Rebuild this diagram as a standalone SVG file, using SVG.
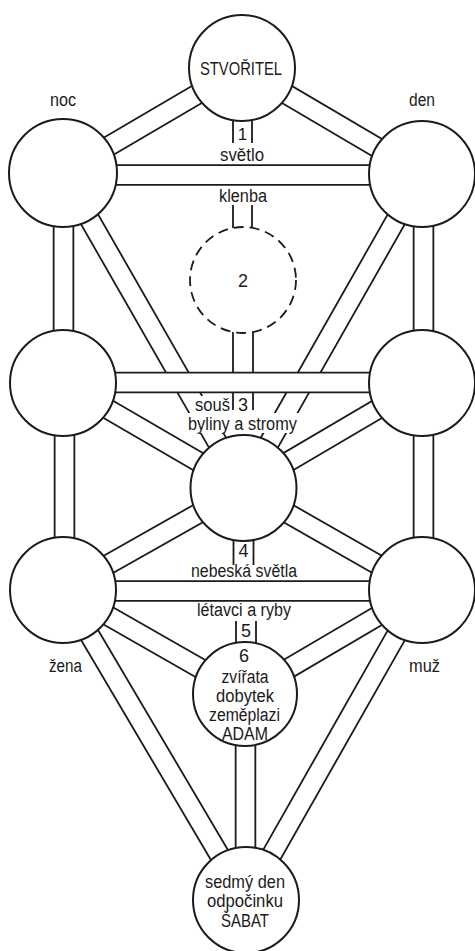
<svg xmlns="http://www.w3.org/2000/svg" width="475" height="951" viewBox="0 0 475 951">
<defs>
<style>
.o{stroke:#1b1b1b;stroke-width:21.5;fill:none}
.i{stroke:#fff;stroke-width:17.9;fill:none}
.ln{stroke:#1b1b1b;stroke-width:1.8;fill:none}
.nd{fill:#fff;stroke:#1b1b1b;stroke-width:2}
.ds{fill:#fff;stroke:#1b1b1b;stroke-width:1.8;stroke-dasharray:10 6}
.ko{fill:#fff}
text{font-family:"Liberation Sans",Arial,sans-serif;font-size:18px;fill:#1b1b1b;text-anchor:middle}
.dg{font-size:17px}
</style>
</defs>
<rect width="475" height="951" fill="#fff"/>
<g id="connectors">
  <path class="o" d="M242 68L63 173M242 68L422 174M63 173L243.5 488M422 174L243.5 488M63 383L243.5 488M422 383L243.5 488M243.5 488L63 590M243.5 488L422 590M63 590L245 694M422 590L245 694M63 590L246 900M422 590L246 900"/>
  <path class="i" d="M242 68L63 173M242 68L422 174M63 173L243.5 488M422 174L243.5 488M63 383L243.5 488M422 383L243.5 488M243.5 488L63 590M243.5 488L422 590M63 590L245 694M422 590L245 694M63 590L246 900M422 590L246 900"/>
  <path class="o" d="M63.5 173V383M64.5 383V590M423.5 174V383M423.5 383V590M245.5 694V900"/>
  <path class="i" d="M63.5 173V383M64.5 383V590M423.5 174V383M423.5 383V590M245.5 694V900"/>
  <path class="o" d="M63 175H422M63 382.5H422M63 591H422"/>
  <path class="i" d="M63 175H422M63 382.5H422M63 591H422"/>
  <path class="ln" d="M233 115V143M252 115V143M233 205V230M252 205V230M233 330V373M253 330V373M233 393V410M253 393V410M233.5 535V565M253.5 535V565M236 621V648M256 621V648"/>
  <rect class="ko" x="193" y="396" width="38" height="18"/>
  <rect class="ko" x="186" y="413" width="114" height="20"/>
</g>
<g id="stvoritel">
  <circle class="nd" cx="242" cy="68" r="53"/>
  <text x="241" y="75" textLength="82" lengthAdjust="spacingAndGlyphs">STVOŘITEL</text>
</g>
<g id="noc">
  <circle class="nd" cx="63" cy="173" r="54"/>
  <text x="63" y="106" textLength="26" lengthAdjust="spacingAndGlyphs">noc</text>
</g>
<g id="den">
  <circle class="nd" cx="422" cy="174" r="53"/>
  <text x="422" y="106" textLength="26" lengthAdjust="spacingAndGlyphs">den</text>
</g>
<g id="node2">
  <circle class="ds" cx="243" cy="280" r="53"/>
  <text x="243" y="287">2</text>
</g>
<g id="left-middle">
  <circle class="nd" cx="63" cy="383" r="53"/>
</g>
<g id="right-middle">
  <circle class="nd" cx="422" cy="383" r="53"/>
</g>
<g id="center">
  <circle class="nd" cx="243.5" cy="488" r="53"/>
</g>
<g id="zena">
  <circle class="nd" cx="63" cy="590" r="53"/>
  <text x="65.5" y="672" textLength="33" lengthAdjust="spacingAndGlyphs">žena</text>
</g>
<g id="muz">
  <circle class="nd" cx="422" cy="590" r="53"/>
  <text x="424.5" y="672" textLength="31" lengthAdjust="spacingAndGlyphs">muž</text>
</g>
<g id="node6">
  <circle class="nd" cx="245" cy="694" r="52"/>
  <text x="244" y="662">6</text>
  <text x="245" y="683" textLength="47" lengthAdjust="spacingAndGlyphs">zvířata</text>
  <text x="245" y="702" textLength="58" lengthAdjust="spacingAndGlyphs">dobytek</text>
  <text x="244.5" y="721" textLength="71" lengthAdjust="spacingAndGlyphs">zeměplazi</text>
  <text x="245" y="740" textLength="46" lengthAdjust="spacingAndGlyphs">ADAM</text>
</g>
<g id="sabat">
  <circle class="nd" cx="246" cy="900" r="53"/>
  <text x="245" y="888" textLength="80" lengthAdjust="spacingAndGlyphs">sedmý den</text>
  <text x="245" y="907" textLength="76" lengthAdjust="spacingAndGlyphs">odpočinku</text>
  <text x="245" y="927" textLength="48" lengthAdjust="spacingAndGlyphs">ŠABAT</text>
</g>
<g id="channel-labels">
  <text class="dg" x="242.5" y="139.5">1</text>
  <text x="242" y="160.5" textLength="44" lengthAdjust="spacingAndGlyphs">světlo</text>
  <text x="243" y="202" textLength="48" lengthAdjust="spacingAndGlyphs">klenba</text>
  <text x="212.5" y="411" textLength="35" lengthAdjust="spacingAndGlyphs">souš</text>
  <text x="243" y="411">3</text>
  <text x="242.5" y="430" textLength="109" lengthAdjust="spacingAndGlyphs">byliny a stromy</text>
  <text x="243.5" y="557">4</text>
  <text x="244" y="576.5" textLength="106" lengthAdjust="spacingAndGlyphs">nebeská světla</text>
  <text x="244" y="616" textLength="94" lengthAdjust="spacingAndGlyphs">létavci a ryby</text>
  <text x="246" y="637">5</text>
</g>
</svg>
